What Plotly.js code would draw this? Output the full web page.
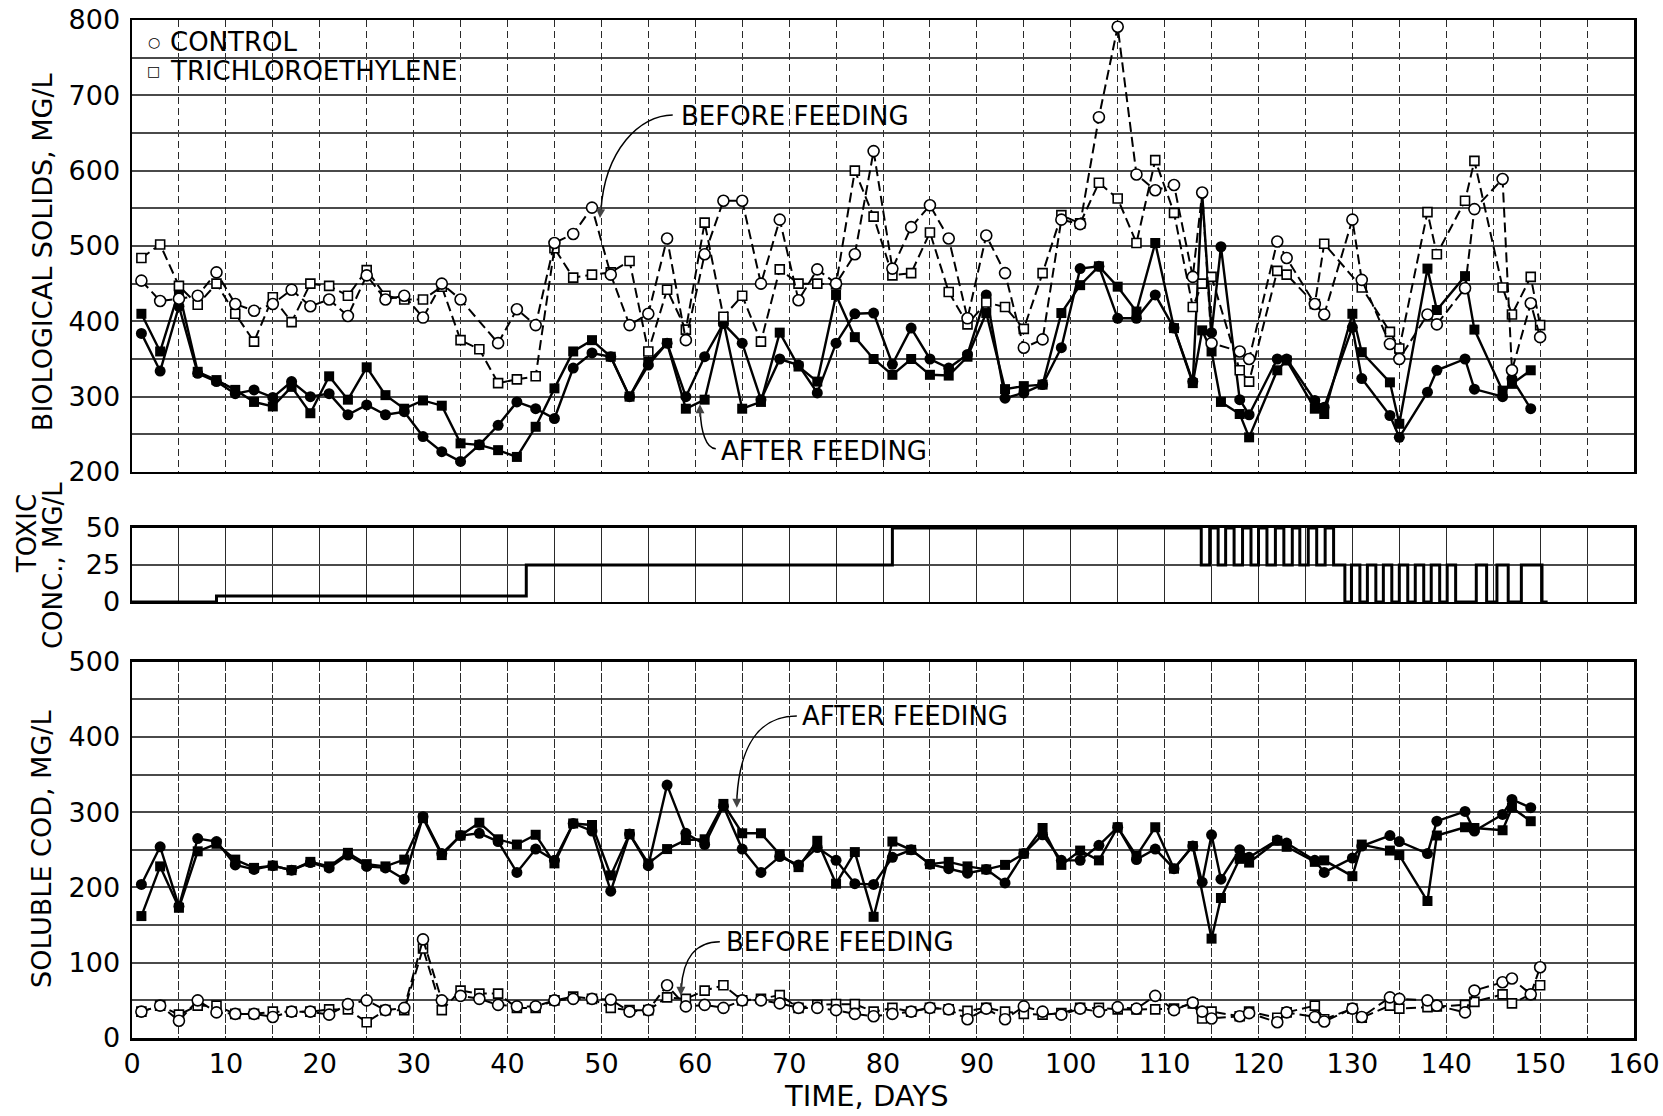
<!DOCTYPE html>
<html><head><meta charset="utf-8">
<script src="https://cdn.plot.ly/plotly-3.0.1.min.js"></script>
<style>html,body{margin:0;padding:0;background:#fff}#chart{width:1663px;height:1116px}</style>
</head><body><div id="chart"></div>
<script>
// Sampling days (time, days)
const days = [1,3,5,7,9,11,13,15,17,19,21,23,25,27,29,31,33,35,37,39,41,43,45,47,49,51,53,55,57,59,61,63,65,67,69,71,73,75,77,79,81,83,85,87,89,91,93,95,97,99,101,103,105,107,109,111,113,114,115,116,118,119,122,123,126,127,130,131,134,135,138,139,142,143,146,147,149,150];

// Biological solids, mg/L
const solidsControlBefore = [454,427,430,434,465,423,414,423,442,420,429,407,461,429,434,405,450,429,null,371,416,395,504,516,551,462,395,410,510,375,489,560,560,450,535,428,469,450,489,626,470,525,554,510,404,514,464,365,376,535,529,671,791,595,574,581,459,571,371,null,360,350,506,484,423,409,535,455,370,350,409,396,444,549,589,335,424,379];
const solidsTceBefore = [484,502,447,422,450,410,373,432,399,450,447,434,468,434,429,429,446,375,363,318,323,327,497,458,462,465,480,360,442,389,531,406,434,373,469,450,450,449,600,539,461,464,518,439,396,425,419,390,464,541,530,584,563,504,614,544,419,450,459,null,335,320,467,462,423,503,null,445,386,364,545,489,560,613,445,409,459,395];
const solidsControlAfter = [384,334,420,331,320,304,309,299,320,300,304,276,289,276,280,247,227,214,236,262,293,284,271,338,358,353,300,342,371,300,353,397,371,296,350,342,305,371,410,411,343,391,350,338,356,435,298,305,316,365,470,473,404,404,435,391,320,570,385,499,296,276,350,350,295,286,392,324,275,246,306,335,350,310,300,324,284,null];
const solidsTceAfter = [410,360,440,333,322,309,293,287,313,278,327,296,339,302,284,295,288,238,236,229,220,260,311,360,375,353,300,346,371,284,296,400,284,293,385,340,320,435,379,350,329,350,329,328,353,411,310,314,316,411,448,473,446,413,504,391,318,388,360,293,277,246,335,348,284,277,410,359,319,264,470,415,460,389,308,317,335,null];

// Soluble COD, mg/L
const codControlAfter = [204,254,175,265,261,230,224,229,223,233,226,243,228,226,211,294,245,269,272,261,220,251,236,285,275,195,271,229,336,272,257,308,251,220,241,230,253,236,205,204,240,250,231,225,219,224,206,245,270,236,236,256,280,237,251,225,255,207,270,211,250,240,263,259,236,220,239,255,269,261,245,288,301,275,297,317,306,null];
const codTceAfter = [162,228,173,248,258,237,226,229,223,234,228,246,231,228,237,292,243,269,286,264,257,270,232,285,283,216,271,232,251,263,264,311,272,272,244,227,262,205,247,161,261,250,231,234,228,224,230,245,279,230,249,236,280,242,280,225,255,null,132,186,238,233,262,254,234,236,215,257,249,243,182,269,280,279,276,306,288,null];
const codControlBefore = [35,43,23,50,34,32,32,28,35,35,31,45,50,37,40,131,50,56,52,44,42,42,50,52,52,51,35,37,70,42,44,40,50,50,46,40,40,37,32,29,32,35,40,38,25,39,25,42,35,31,39,35,41,39,56,37,47,35,26,null,29,33,21,34,28,22,39,28,54,52,50,43,34,63,74,79,58,94];
const codTceBefore = [35,43,31,43,43,32,32,35,35,35,38,38,21,37,37,119,37,63,59,59,40,40,50,55,52,40,37,37,54,52,63,70,50,52,57,40,44,45,45,35,40,35,40,38,36,40,35,32,31,33,40,40,38,38,38,39,46,26,35,null,29,35,27,34,43,25,39,27,43,39,41,42,44,48,58,46,58,70];

// Toxic concentration (step changes), mg/L
const toxDay = [0,9,42,81,113.9,114.8,115.7,116.5,117.4,118.3,119.2,120.0,120.9,121.8,122.7,123.6,124.4,125.3,126.2,127.1,128.0,129.2,129.9,130.8,131.6,132.5,133.3,134.2,135.0,135.9,136.7,137.6,138.4,139.3,140.1,141.0,143.2,144.3,145.4,146.6,148.0,150.2,150.8];
const toxConc = [0,4,25,50,25,50,25,50,25,50,25,50,25,50,25,50,25,50,25,50,25,0,25,0,25,0,25,0,25,0,25,0,25,0,25,0,25,0,25,0,25,0,0];

// Tick labels
const xTicks = [0,10,20,30,40,50,60,70,80,90,100,110,120,130,140,150,160];
const ySolidsTicks = [200,300,400,500,600,700,800];
const yToxTicks = [0,25,50];
const yCodTicks = [0,100,200,300,400,500];

const dashBefore = '10px,5px';
const openCircle = {symbol:'circle', size:11, color:'white', line:{color:'black', width:1.6}};
const openSquare = {symbol:'square', size:9, color:'white', line:{color:'black', width:1.6}};
const fullCircle = {symbol:'circle', size:11, color:'black', line:{color:'black', width:0}};
const fullSquare = {symbol:'square', size:10, color:'black', line:{color:'black', width:0}};

function tr(y, xa, ya, marker, before){
  return {x: days, y: y, xaxis: xa, yaxis: ya, type:'scatter', mode:'lines+markers', connectgaps:true,
    marker: marker, line:{color:'black', width: before ? 2 : 2.4, dash: before ? dashBefore : 'solid'}, hoverinfo:'skip'};
}

const data = [
  tr(solidsTceAfter, 'x2', 'y', fullSquare, false),
  tr(solidsControlAfter, 'x2', 'y', fullCircle, false),
  tr(solidsTceBefore, 'x2', 'y', openSquare, true),
  tr(solidsControlBefore, 'x2', 'y', openCircle, true),
  {x: toxDay, y: toxConc, xaxis:'x3', yaxis:'y2', type:'scatter', mode:'lines', line:{color:'black', width:3, shape:'hv'}, hoverinfo:'skip'},
  tr(codTceAfter, 'x', 'y3', fullSquare, false),
  tr(codControlAfter, 'x', 'y3', fullCircle, false),
  tr(codTceBefore, 'x', 'y3', openSquare, true),
  tr(codControlBefore, 'x', 'y3', openCircle, true)
];

const F = 'DejaVu Sans, Verdana, sans-serif';
const gridCol = '#2a2a2a';
const hGridCol = '#4a4a4a';
function xAx(extra){
  return Object.assign({range:[0,160], showline:true, mirror:true, linecolor:'black', linewidth:2.5, ticks:'', zeroline:false,
    tickvals:xTicks, showgrid:true, gridcolor:gridCol, gridwidth:1, griddash:'7px,4px',
    minor:{dtick:5, tick0:0, showgrid:true, gridcolor:gridCol, gridwidth:1, griddash:'7px,4px'}}, extra);
}
function yAx(extra){
  return Object.assign({showline:true, mirror:true, linecolor:'black', linewidth:2.5, ticks:'', zeroline:false,
    showgrid:true, gridcolor:hGridCol, gridwidth:2, tickfont:{family:F, size:27, color:'black'}, ticklabelstandoff:4}, extra);
}

const titleFont = {family:F, size:27, color:'black'};
const labelFont = {family:F, size:26, color:'black'};

const layout = {
  width:1663, height:1116, margin:{l:132, r:29, t:20, b:78},
  paper_bgcolor:'white', plot_bgcolor:'white', showlegend:false,
  font:{family:F, color:'black'},
  xaxis: xAx({anchor:'y3', domain:[0,1], ticktext:xTicks.map(String), tickfont:{family:F, size:27, color:'black'}, griddash:'9px,2px', minor:{dtick:5, tick0:0, showgrid:true, gridcolor:gridCol, gridwidth:1, griddash:'9px,2px'}}),
  xaxis2: xAx({anchor:'y', domain:[0,1], matches:'x', showticklabels:false}),
  xaxis3: xAx({anchor:'y2', domain:[0,1], matches:'x', showticklabels:false, griddash:'solid', minor:{dtick:5, tick0:0, showgrid:true, gridcolor:gridCol, gridwidth:1}}),
  yaxis: yAx({anchor:'x2', domain:[0.556,1], range:[200,800], tickvals:ySolidsTicks, minor:{dtick:50, tick0:0, showgrid:true, gridcolor:hGridCol, gridwidth:2}}),
  yaxis2: yAx({anchor:'x3', domain:[0.4283,0.501], range:[0,50], tickvals:yToxTicks}),
  yaxis3: yAx({anchor:'x', domain:[0,0.3697], range:[0,500], tickvals:yCodTicks, minor:{dtick:50, tick0:0, showgrid:true, gridcolor:hGridCol, gridwidth:2}}),
  shapes: [
    {type:'path', xref:'x2', yref:'y', path:'M 57.6,674 C 54.1,674 50.37,627.4 49.95,547', line:{color:'black', width:1.5}},
    {type:'path', xref:'x2', yref:'y', path:'M 62.19,231 C 61.13,231 60.6,255 60.54,280', line:{color:'black', width:1.5}},
    {type:'path', xref:'x', yref:'y3', path:'M 70.82,427.9 C 66.88,427.9 64.75,389.4 64.43,318', line:{color:'black', width:1.5}},
    {type:'path', xref:'x', yref:'y3', path:'M 62.62,127.9 C 59.96,127.9 58.68,104 58.52,66', line:{color:'black', width:1.5}}
  ],
  annotations: [
    {xref:'paper', yref:'paper', x:-0.0599, y:0.772, text:'BIOLOGICAL SOLIDS, MG/L', textangle:-90, showarrow:false, font:titleFont, xanchor:'center', yanchor:'middle'},
    {xref:'paper', yref:'paper', x:-0.0702, y:0.4955, text:'TOXIC', textangle:-90, showarrow:false, font:{family:F, size:26, color:'black'}, xanchor:'center', yanchor:'middle'},
    {xref:'paper', yref:'paper', x:-0.0526, y:0.4646, text:'CONC., MG/L', textangle:-90, showarrow:false, font:{family:F, size:26, color:'black'}, xanchor:'center', yanchor:'middle'},
    {xref:'paper', yref:'paper', x:-0.0599, y:0.1847, text:'SOLUBLE COD, MG/L', textangle:-90, showarrow:false, font:titleFont, xanchor:'center', yanchor:'middle'},
    {xref:'paper', yref:'paper', x:0.489, y:-0.057, text:'TIME, DAYS', showarrow:false, font:{family:F, size:29, color:'black'}, xanchor:'center', yanchor:'middle'},
    // legend
    {xref:'x2', yref:'y', x:2.34, y:770.8, text:'○', showarrow:false, font:{family:F, size:14, color:'black'}, xanchor:'center', yanchor:'middle'},
    {xref:'x2', yref:'y', x:3.83, y:770.8, text:'CONTROL', showarrow:false, font:labelFont, xanchor:'left', yanchor:'middle'},
    {xref:'x2', yref:'y', x:2.34, y:732.3, text:'□', showarrow:false, font:{family:F, size:14, color:'black'}, xanchor:'center', yanchor:'middle'},
    {xref:'x2', yref:'y', x:3.83, y:732.3, text:'TRICHLOROETHYLENE', showarrow:false, font:labelFont, xanchor:'left', yanchor:'middle'},
    // feeding labels
    {xref:'x2', yref:'y', x:58.25, y:673, text:'BEFORE FEEDING', showarrow:false, font:labelFont, xanchor:'left', yanchor:'middle'},
    {xref:'x2', yref:'y', x:62.5, y:228, text:'AFTER FEEDING', showarrow:false, font:labelFont, xanchor:'left', yanchor:'middle'},
    {xref:'x', yref:'y3', x:71.2, y:428, text:'AFTER FEEDING', showarrow:false, font:labelFont, xanchor:'left', yanchor:'middle'},
    {xref:'x', yref:'y3', x:63.1, y:128, text:'BEFORE FEEDING', showarrow:false, font:labelFont, xanchor:'left', yanchor:'middle'},
    // arrow heads
    {xref:'x2', yref:'y', x:49.85, y:537, text:'', showarrow:true, arrowhead:2, arrowsize:1.2, arrowwidth:1.5, ax:1, ay:-14},
    {xref:'x2', yref:'y', x:60.5, y:290, text:'', showarrow:true, arrowhead:2, arrowsize:1.2, arrowwidth:1.5, ax:0, ay:14},
    {xref:'x', yref:'y3', x:64.43, y:306, text:'', showarrow:true, arrowhead:2, arrowsize:1.2, arrowwidth:1.5, ax:0, ay:-14},
    {xref:'x', yref:'y3', x:58.47, y:56, text:'', showarrow:true, arrowhead:2, arrowsize:1.2, arrowwidth:1.5, ax:0, ay:-14}
  ]
};

Plotly.newPlot('chart', data, layout, {staticPlot:true, displayModeBar:false});
</script>
</body></html>
